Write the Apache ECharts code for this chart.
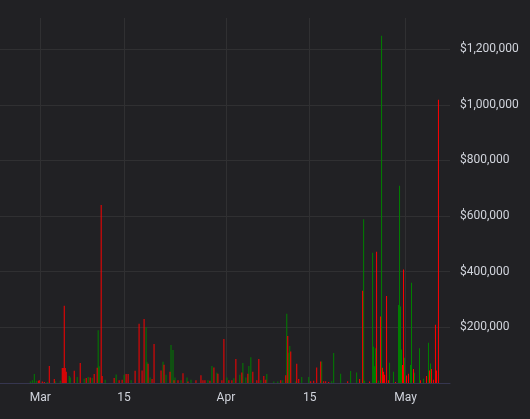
<!DOCTYPE html>
<html>
<head>
<meta charset="utf-8">
<script src="https://cdn.jsdelivr.net/npm/echarts@6/dist/echarts.min.js"></script>
<style>
  html, body { margin: 0; padding: 0; background: #212124; }
  #chart { width: 530px; height: 419px; }
</style>
</head>
<body>
<div id="chart"></div>
<script>
// visible window of the time axis
const xRange = ['2024-02-23 06:28', '2024-05-08 10:19'];

// tick labels on the time axis
const tickDates = ['2024-03-01', '2024-03-15', '2024-04-01', '2024-04-15', '2024-05-01'];
const tickLabels = ['Mar', '15', 'Apr', '15', 'May'];

// green bars (up)
const upTimes = [
  '2024-02-28 08:00', '2024-02-28 16:00', '2024-02-29 00:00', '2024-02-29 08:00', '2024-03-02 04:00',
  '2024-03-03 12:00', '2024-03-04 08:00', '2024-03-05 20:00', '2024-03-06 00:00', '2024-03-07 04:00',
  '2024-03-08 08:00', '2024-03-09 00:00', '2024-03-09 16:00', '2024-03-10 16:00', '2024-03-10 20:00',
  '2024-03-11 20:00', '2024-03-13 16:00', '2024-03-15 00:00', '2024-03-16 04:00', '2024-03-18 16:00',
  '2024-03-18 20:00', '2024-03-19 08:00', '2024-03-21 12:00', '2024-03-22 00:00', '2024-03-22 20:00',
  '2024-03-23 04:00', '2024-03-23 12:00', '2024-03-24 12:00', '2024-03-25 12:00', '2024-03-26 04:00',
  '2024-03-29 00:00', '2024-03-29 16:00', '2024-03-30 12:00', '2024-04-01 04:00', '2024-04-02 08:00',
  '2024-04-03 08:00', '2024-04-03 20:00', '2024-04-04 08:00', '2024-04-04 20:00', '2024-04-05 04:00',
  '2024-04-06 20:00', '2024-04-07 20:00', '2024-04-09 00:00', '2024-04-09 16:00', '2024-04-10 12:00',
  '2024-04-11 04:00', '2024-04-11 12:00', '2024-04-11 16:00', '2024-04-12 16:00', '2024-04-13 16:00',
  '2024-04-14 20:00', '2024-04-17 00:00', '2024-04-18 16:00', '2024-04-19 00:00', '2024-04-20 04:00',
  '2024-04-21 20:00', '2024-04-22 20:00', '2024-04-24 00:00', '2024-04-24 04:00', '2024-04-25 12:00',
  '2024-04-25 16:00', '2024-04-25 20:00', '2024-04-26 00:00', '2024-04-26 12:00', '2024-04-27 00:00',
  '2024-04-28 08:00', '2024-04-29 00:00', '2024-04-29 20:00', '2024-04-30 00:00', '2024-04-30 04:00',
  '2024-04-30 08:00', '2024-04-30 20:00', '2024-05-01 20:00', '2024-05-02 00:00', '2024-05-02 12:00',
  '2024-05-03 08:00', '2024-05-04 00:00', '2024-05-04 20:00', '2024-05-05 04:00'
];
const upValues = [
  5000, 10000, 32000, 8000, 4000,
  6000, 8000, 25000, 20000, 22000,
  15000, 22000, 18000, 190000, 60000,
  12000, 31000, 30000, 10000, 200000,
  75000, 20000, 76000, 30000, 137000,
  119000, 20000, 10000, 20000, 12000,
  10000, 61000, 37000, 20000, 17000,
  30000, 72000, 20000, 61000, 93000,
  10000, 32000, 5000, 5000, 10000,
  249000, 109000, 133000, 5000, 22000,
  22000, 77000, 6000, 108000, 33000,
  43000, 38000, 589000, 8000, 468000,
  130000, 60000, 125000, 8000, 1248000,
  73000, 40000, 280000, 709000, 275000,
  120000, 91000, 65000, 360000, 37000,
  125000, 15000, 145000, 70000
];

// red bars (down)
const downTimes = [
  '2024-02-29 16:00', '2024-02-29 20:00', '2024-03-01 08:00', '2024-03-01 16:00', '2024-03-02 12:00',
  '2024-03-03 08:00', '2024-03-04 16:00', '2024-03-04 20:00', '2024-03-05 00:00', '2024-03-05 04:00',
  '2024-03-05 08:00', '2024-03-06 16:00', '2024-03-07 16:00', '2024-03-08 16:00', '2024-03-09 08:00',
  '2024-03-10 00:00', '2024-03-10 12:00', '2024-03-11 04:00', '2024-03-11 08:00', '2024-03-13 08:00',
  '2024-03-14 04:00', '2024-03-14 16:00', '2024-03-15 08:00', '2024-03-15 16:00', '2024-03-16 20:00',
  '2024-03-17 12:00', '2024-03-18 00:00', '2024-03-18 08:00', '2024-03-19 00:00', '2024-03-19 16:00',
  '2024-03-20 00:00', '2024-03-21 04:00', '2024-03-21 16:00', '2024-03-22 16:00', '2024-03-23 08:00',
  '2024-03-24 00:00', '2024-03-24 20:00', '2024-03-25 16:00', '2024-03-27 00:00', '2024-03-27 20:00',
  '2024-03-28 04:00', '2024-03-28 12:00', '2024-03-29 08:00', '2024-03-30 00:00', '2024-03-30 16:00',
  '2024-03-31 08:00', '2024-03-31 16:00', '2024-04-01 12:00', '2024-04-02 00:00', '2024-04-02 16:00',
  '2024-04-03 16:00', '2024-04-04 16:00', '2024-04-05 12:00', '2024-04-06 04:00', '2024-04-06 12:00',
  '2024-04-07 08:00', '2024-04-07 16:00', '2024-04-10 04:00', '2024-04-11 00:00', '2024-04-11 08:00',
  '2024-04-11 20:00', '2024-04-12 20:00', '2024-04-13 04:00', '2024-04-15 04:00', '2024-04-15 16:00',
  '2024-04-16 04:00', '2024-04-16 20:00', '2024-04-17 08:00', '2024-04-17 16:00', '2024-04-18 04:00',
  '2024-04-21 08:00', '2024-04-23 08:00', '2024-04-23 20:00', '2024-04-25 00:00', '2024-04-26 04:00',
  '2024-04-26 20:00', '2024-04-27 04:00', '2024-04-27 08:00', '2024-04-27 12:00', '2024-04-27 20:00',
  '2024-04-28 04:00', '2024-04-29 08:00', '2024-04-30 12:00', '2024-04-30 16:00', '2024-05-01 04:00',
  '2024-05-01 12:00', '2024-05-02 08:00', '2024-05-03 12:00', '2024-05-04 12:00', '2024-05-05 00:00',
  '2024-05-05 08:00', '2024-05-05 16:00', '2024-05-06 00:00', '2024-05-06 04:00', '2024-05-06 12:00'
];
const downValues = [
  8000, 10000, 5000, 4000, 61000,
  14000, 54000, 54000, 278000, 54000,
  40000, 44000, 72000, 18000, 20000,
  32000, 55000, 640000, 25000, 18000,
  10000, 12000, 32000, 32000, 44000,
  213000, 45000, 230000, 69000, 14000,
  140000, 45000, 66000, 40000, 10000,
  10000, 35000, 5000, 10000, 28000,
  10000, 10000, 8000, 56000, 33000,
  10000, 158000, 10000, 10000, 86000,
  38000, 33000, 40000, 10000, 86000,
  25000, 12000, 10000, 28000, 169000,
  113000, 69000, 14000, 6000, 8000,
  56000, 77000, 6000, 6000, 4000,
  6000, 14000, 332000, 5000, 472000,
  239000, 55000, 40000, 30000, 313000,
  10000, 4000, 65000, 408000, 27000,
  33000, 50000, 10000, 25000, 45000,
  50000, 12000, 209000, 45000, 1018000
];

const parseTime = s => +echarts.time.parse(s);
const tickValues = tickDates.map(parseTime);

const chart = echarts.init(document.getElementById('chart'));
const option = {
  backgroundColor: '#212124',
  animation: false,
  textStyle: { fontFamily: 'Roboto' },
  grid: { left: 0, right: 80, top: 18, bottom: 36 },
  xAxis: {
    // timestamps on a value axis so the month ticks can be placed by hand
    type: 'value',
    min: parseTime(xRange[0]),
    max: parseTime(xRange[1]),
    axisLine: { show: true, lineStyle: { color: '#363650', width: 1 } },
    axisTick: { show: false, customValues: tickValues },
    splitLine: { show: true, lineStyle: { color: '#303032', width: 1 } },
    axisLabel: {
      customValues: tickValues,
      color: '#d1d4dc',
      fontSize: 12,
      margin: 9,
      formatter: value => {
        const i = tickValues.findIndex(t => Math.abs(t - value) < 3600e3);
        return i >= 0 ? tickLabels[i] : '';
      }
    }
  },
  yAxis: {
    type: 'value',
    position: 'right',
    min: 0,
    max: 1312000,
    interval: 200000,
    axisLine: { show: false },
    axisTick: { show: false },
    splitLine: { lineStyle: { color: '#303032', width: 1 }, showMaxLine: false },
    axisLabel: {
      color: '#d1d4dc',
      fontSize: 12,
      margin: 10,
      showMinLabel: false,
      showMaxLabel: false,
      formatter: v => '$' + v.toLocaleString('en-US')
    }
  },
  series: [
    {
      name: 'up',
      type: 'bar',
      barWidth: 1,
      barGap: '-100%',
      itemStyle: { color: '#008000' },
      data: upTimes.map((t, i) => [parseTime(t), upValues[i]])
    },
    {
      name: 'down',
      type: 'bar',
      barWidth: 1,
      barGap: '-100%',
      itemStyle: { color: '#ff0000' },
      data: downTimes.map((t, i) => [parseTime(t), downValues[i]])
    }
  ]
};
chart.setOption(option);
</script>
</body>
</html>
